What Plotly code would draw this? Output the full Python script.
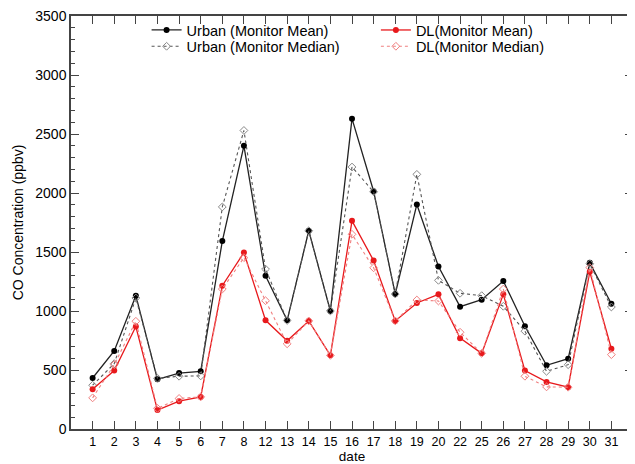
import plotly.graph_objects as go

dates = ["1", "2", "3", "4", "5", "6", "7", "8", "12", "13", "14", "15", "16",
         "17", "18", "19", "20", "22", "25", "26", "27", "28", "29", "30", "31"]

urban_mean = [432, 661, 1130, 421, 474, 489, 1593, 2400, 1298, 921, 1680, 1000, 2630,
              2015, 1144, 1903, 1377, 1037, 1096, 1254, 871, 540, 596, 1408, 1062]
urban_median = [371, 554, 1110, 430, 447, 450, 1882, 2530, 1355, 920, 1680, 1000, 2220,
                2010, 1144, 2158, 1260, 1150, 1130, 1040, 829, 489, 545, 1400, 1034]
dl_mean = [337, 495, 868, 160, 236, 272, 1214, 1495, 921, 748, 916, 624, 1764,
           1427, 916, 1068, 1141, 770, 641, 1141, 495, 399, 354, 1332, 680]
dl_median = [264, 545, 913, 175, 259, 272, 1186, 1452, 1087, 722, 916, 624, 1650,
             1366, 916, 1093, 1085, 820, 641, 1186, 447, 357, 354, 1368, 630]

y_ticks = [0, 500, 1000, 1500, 2000, 2500, 3000, 3500]

FONT = "Liberation Sans, Arial, Helvetica, sans-serif"

fig = go.Figure()
fig.add_trace(go.Scatter(
    x=dates, y=urban_mean, name="Urban (Monitor Mean)", mode="lines+markers",
    line=dict(color="#222222", width=1.3),
    marker=dict(symbol="circle", size=6, color="black"), legend="legend"))
fig.add_trace(go.Scatter(
    x=dates, y=urban_median, name="Urban (Monitor Median)", mode="lines+markers",
    line=dict(color="#555555", width=1.1, dash="dot"),
    marker=dict(symbol="diamond-open", size=6, color="#888888", line=dict(width=1)),
    legend="legend2"))
fig.add_trace(go.Scatter(
    x=dates, y=dl_mean, name="DL(Monitor Mean)", mode="lines+markers",
    line=dict(color="#e8191c", width=1.3),
    marker=dict(symbol="circle", size=6, color="#e8191c"), legend="legend3"))
fig.add_trace(go.Scatter(
    x=dates, y=dl_median, name="DL(Monitor Median)", mode="lines+markers",
    line=dict(color="#f08080", width=1.1, dash="dot"),
    marker=dict(symbol="diamond-open", size=6, color="#f08080", line=dict(width=1)),
    legend="legend4"))

leg_common = dict(font=dict(family=FONT, size=14.5, color="black"),
                  bgcolor="rgba(0,0,0,0)", xanchor="left", yanchor="middle",
                  itemwidth=30, borderwidth=0)

fig.update_layout(
    width=627, height=456,
    margin=dict(l=63, r=0, t=7, b=35),
    paper_bgcolor="white", plot_bgcolor="white",
    font=dict(family=FONT, size=13, color="black"),
    showlegend=True,
    legend=dict(x=0.1345, y=0.966, **leg_common),
    legend2=dict(x=0.1345, y=0.9265, **leg_common),
    legend3=dict(x=0.5425, y=0.966, **leg_common),
    legend4=dict(x=0.5425, y=0.9265, **leg_common),
    xaxis=dict(
        type="category", range=[-1, 25], showline=True, linecolor="#444444", linewidth=1.5,
        mirror="ticks", ticks="inside", ticklen=8, tickcolor="#444444", tickwidth=1.2,
        showgrid=False, zeroline=False, ticklabelstandoff=0,
        title=dict(text="date", font=dict(size=13.5), standoff=4),
        tickfont=dict(size=12.5)),
    yaxis=dict(
        range=[0, 3500], tickvals=y_ticks, showline=True, linecolor="#444444", linewidth=1.5,
        mirror="ticks", ticks="inside", ticklen=8, tickcolor="#444444", tickwidth=1.2,
        minor=dict(ticks="inside", dtick=100, ticklen=4, tickcolor="#444444", tickwidth=1),
        showgrid=False, zeroline=False, ticklabeloverflow="allow",
        title=dict(text="CO Concentration (ppbv)", font=dict(size=14), standoff=8),
        tickfont=dict(size=14)),
)

fig.write_html("out.html")
